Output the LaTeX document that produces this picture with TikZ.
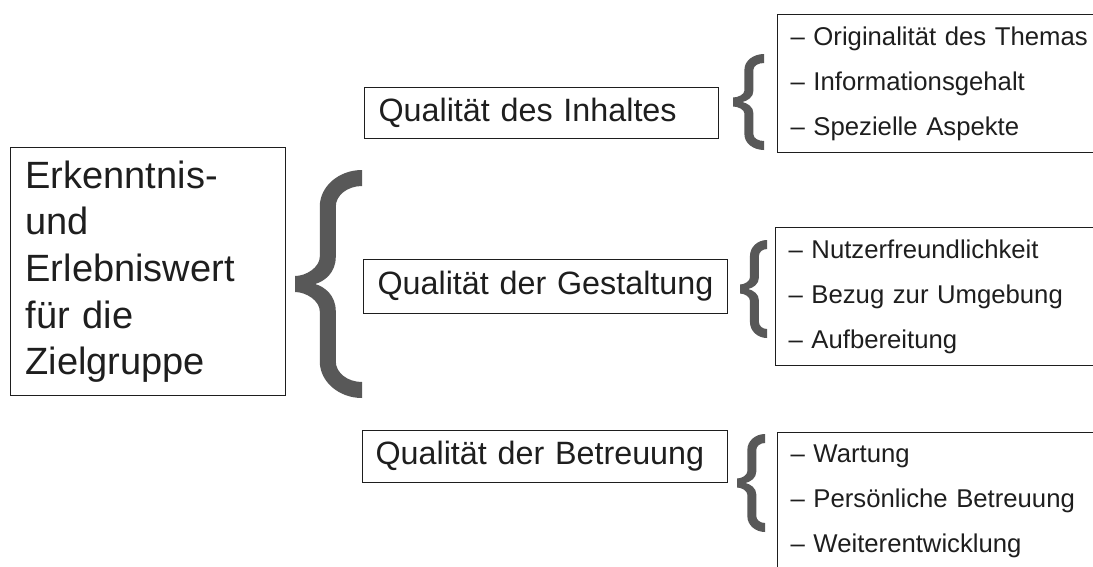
\documentclass[tikz,border=0pt]{standalone}
\usepackage{fontspec}
\setmainfont{Liberation Sans}
\definecolor{inkc}{RGB}{30,30,30}
\definecolor{bracec}{RGB}{88,88,88}
\newcommand{\curlybrace}[5]{%
 \pgfmathsetmacro\bL{#1}\pgfmathsetmacro\bR{#2}\pgfmathsetmacro\bT{#3}\pgfmathsetmacro\bB{#4}\pgfmathsetmacro\bt{#5}%
 \pgfmathsetmacro\bW{\bR-\bL}\pgfmathsetmacro\bH{\bB-\bT}\pgfmathsetmacro\bM{(\bT+\bB)/2}%
 \pgfmathsetmacro\so{\bL+0.37*\bW}\pgfmathsetmacro\si{\so+\bt}%
 \pgfmathsetmacro\ra{0.16*\bH}\pgfmathsetmacro\rb{0.12*\bH}%
 \pgfmathsetmacro\ti{\bL+0.3*\bW}\pgfmathsetmacro\ht{0.5*\bt}%
 % control helpers
 \pgfmathsetmacro\cxo{\bR-0.55*(\bR-\so)}\pgfmathsetmacro\cxi{\bR-0.55*(\bR-\si)}%
 \pgfmathsetmacro\cyo{0.45*\ra}\pgfmathsetmacro\cyi{\bt+0.45*(\ra-\bt)}%
 \pgfmathsetmacro\cmo{0.45*(\rb-\ht)}\pgfmathsetmacro\cxt{\bL+0.45*(\so-\bL)}%
 \pgfmathsetmacro\cxti{\ti+0.45*(\si-\ti)}%
 \fill[bracefill]
   (\bR,\bT) .. controls (\cxo,\bT) and (\so,\bT+\cyo) .. (\so,\bT+\ra)
   -- (\so,\bM-\rb) .. controls (\so,\bM-\ht-\cmo) and (\cxt,\bM-\ht) .. (\bL,\bM-\ht)
   -- (\bL,\bM+\ht) .. controls (\cxt,\bM+\ht) and (\so,\bM+\ht+\cmo) .. (\so,\bM+\rb)
   -- (\so,\bB-\ra) .. controls (\so,\bB-\cyo) and (\cxo,\bB) .. (\bR,\bB)
   -- (\bR,\bB-\bt) .. controls (\cxi,\bB-\bt) and (\si,\bB-\cyi) .. (\si,\bB-\ra)
   -- (\si,\bM+\rb) .. controls (\si,\bM+0.4*\rb) and (\cxti,\bM+0.1*\rb) .. (\ti,\bM)
   .. controls (\cxti,\bM-0.1*\rb) and (\si,\bM-0.4*\rb) .. (\si,\bM-\rb)
   -- (\si,\bT+\ra) .. controls (\si,\bT+\cyi) and (\cxi,\bT+\bt) .. (\bR,\bT+\bt) -- cycle;}
\begin{document}
\begin{tikzpicture}[x=1pt,y=-1pt,
  bracefill/.style={fill=bracec},
  framebox/.style={draw=inkc, line width=1.2pt, text=inkc, anchor=north west, align=left, inner ysep=0pt},
  mainbox/.style={framebox, font=\fontsize{38}{46.7}\selectfont},
  qualbox/.style={framebox, font=\fontsize{32.3}{38}\selectfont},
  listbox/.style={framebox, font=\fontsize{25.7}{45}\selectfont, minimum height=138pt, inner xsep=13pt, text width=314pt}]
\useasboundingbox (0,0) rectangle (1093,566);
\clip (0,0) rectangle (1093,566);

\node[mainbox, minimum height=248pt, inner xsep=15pt, text width=245pt] (main) at (10,147)
  {Erkenntnis-\\und\\Erlebniswert\\für die\\Zielgruppe};

\node[qualbox, minimum height=51pt, inner xsep=14pt, text width=326pt] (q1) at (364,87) {Qualität des Inhaltes};
\node[qualbox, minimum height=54pt, inner xsep=14pt, text width=336pt] (q2) at (363,259) {Qualität der Gestaltung};
\node[qualbox, minimum height=52pt, inner xsep=13pt, text width=339pt] (q3) at (362,430) {Qualität der Betreuung};

\node[listbox] (l1) at (777,14) {– Originalität des Themas\\– Informationsgehalt\\– Spezielle Aspekte};
\node[listbox] (l2) at (775,227) {– Nutzerfreundlichkeit\\– Bezug zur Umgebung\\– Aufbereitung};
\node[listbox] (l3) at (777,432) {– Wartung\\– Persönliche Betreuung\\– Weiterentwicklung};

\curlybrace{295}{362}{170}{398}{16}
\curlybrace{733}{764}{54}{150}{9}
\curlybrace{740}{767}{240}{338}{9}
\curlybrace{737}{765}{434}{532}{9}
\end{tikzpicture}
\end{document}
